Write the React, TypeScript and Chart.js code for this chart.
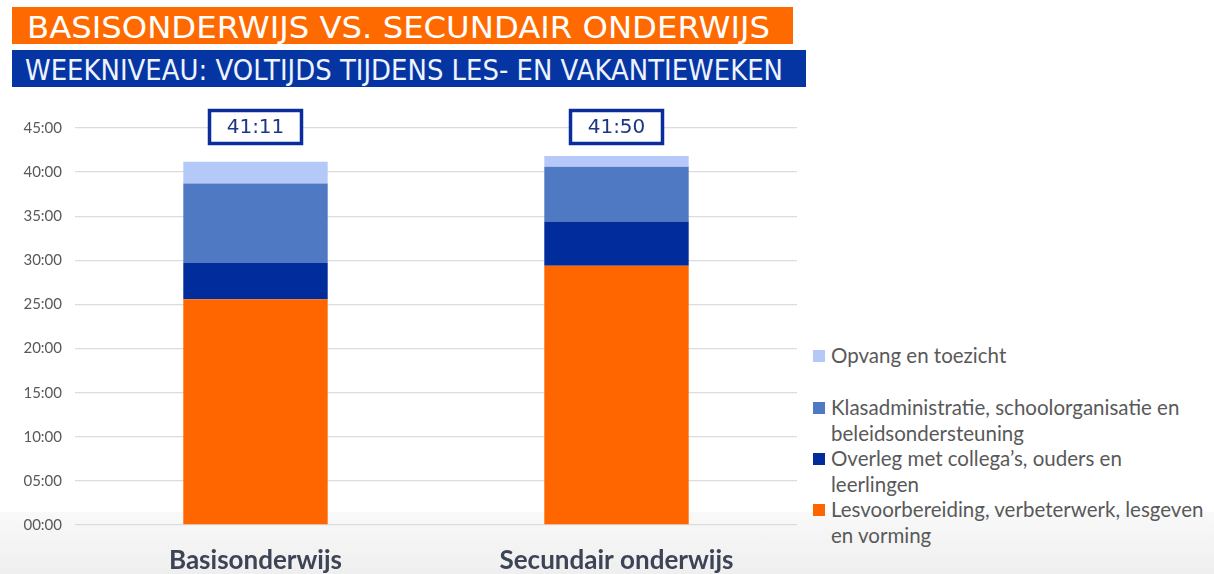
import React, { useEffect, useRef } from "react";
import { Chart, registerables } from "chart.js";

Chart.register(...registerables);

// Data (values in minutes per week)
const categories = ["Basisonderwijs", "Secundair onderwijs"];
const seriesLabels = [
  "Lesvoorbereiding, verbeterwerk, lesgeven en vorming",
  "Overleg met collega’s, ouders en leerlingen",
  "Klasadministratie, schoolorganisatie en beleidsondersteuning",
  "Opvang en toezicht",
];
const lesvoorbereiding = [1536, 1764];
const overleg = [246, 300];
const klasadministratie = [540, 372];
const opvang = [149, 74];
const seriesColors = ["#ff6600", "#002c9c", "#5079c3", "#b5c9f8"];
const legendLines = [
  ["Lesvoorbereiding, verbeterwerk, lesgeven", "en vorming"],
  ["Overleg met collega’s, ouders en", "leerlingen"],
  ["Klasadministratie, schoolorganisatie en", "beleidsondersteuning"],
  ["Opvang en toezicht"],
];
const yMaxMinutes = 2700;
const yStepMinutes = 300;
const titleText = "BASISONDERWIJS VS. SECUNDAIR ONDERWIJS";
const subtitleText = "WEEKNIVEAU: VOLTIJDS TIJDENS LES- EN VAKANTIEWEKEN";

const seriesValues = [lesvoorbereiding, overleg, klasadministratie, opvang];

function pad2(n: number) {
  return (n < 10 ? "0" : "") + n;
}
function fmtTotal(min: number) {
  const h = Math.floor(min / 60);
  const m = Math.round(min - h * 60);
  return h + ":" + pad2(m);
}

const totalsPlugin = {
  id: "totalsBoxes",
  afterDatasetsDraw(chart: any) {
    const ctx = chart.ctx;
    const xs = chart.scales.x;
    const top = chart.chartArea.top;
    ctx.save();
    categories.forEach((_, i) => {
      const total = seriesValues.reduce((s, arr) => s + arr[i], 0);
      const cx = xs.getPixelForValue(i);
      const cy = top - 1;
      const w = 92;
      const h = 33;
      ctx.fillStyle = "#ffffff";
      ctx.fillRect(cx - w / 2, cy - h / 2, w, h);
      ctx.lineWidth = 3.5;
      ctx.strokeStyle = "#0b2d9c";
      ctx.strokeRect(cx - w / 2, cy - h / 2, w, h);
      ctx.fillStyle = "#1c3585";
      ctx.font = '20px "DejaVu Sans"';
      ctx.textAlign = "center";
      ctx.textBaseline = "middle";
      ctx.fillText(fmtTotal(total), cx, cy + 1);
    });
    ctx.restore();
  },
};

export default function App() {
  const canvasRef = useRef<HTMLCanvasElement | null>(null);

  useEffect(() => {
    document.body.style.margin = "0";
    if (!canvasRef.current) return;
    const chart = new Chart(canvasRef.current, {
      type: "bar",
      data: {
        labels: categories,
        datasets: seriesValues.map((vals, i) => ({
          label: seriesLabels[i],
          data: vals,
          backgroundColor: seriesColors[i],
          borderWidth: 0,
          categoryPercentage: 1,
          barPercentage: 0.4,
        })),
      },
      options: {
        animation: false,
        responsive: false,
        maintainAspectRatio: false,
        layout: { padding: { top: 33, right: 13, left: 0, bottom: 0 } },
        plugins: {
          legend: { display: false },
          tooltip: { enabled: false },
          title: { display: false },
        },
        scales: {
          x: {
            stacked: true,
            grid: { display: false, drawTicks: false },
            border: { display: false },
            ticks: {
              color: "#3d4456",
              font: { family: "Lato", size: 26, weight: "bold" },
              padding: 20,
            },
            afterFit: (s: any) => {
              s.height = 49;
            },
          },
          y: {
            stacked: true,
            min: 0,
            max: yMaxMinutes,
            grid: { color: "#dcdcdc", lineWidth: 1.3, drawTicks: false },
            border: { display: false },
            ticks: {
              stepSize: yStepMinutes,
              color: "#595959",
              font: { family: "Lato", size: 15 },
              padding: 13,
              callback: (v: any) => pad2(Math.round(Number(v) / 60)) + ":00",
            },
            afterFit: (s: any) => {
              s.width = 75;
            },
          },
        },
      },
      plugins: [totalsPlugin],
    });
    return () => chart.destroy();
  }, []);

  const legendTops = [497, 446, 395, 343];

  return (
    <div
      style={{
        position: "relative",
        width: 1214,
        height: 574,
        overflow: "hidden",
        background: "#ffffff",
        fontFamily: "Lato, sans-serif",
      }}
    >
      <div
        style={{
          position: "absolute",
          left: 0,
          top: 512,
          width: 1214,
          height: 62,
          background: "linear-gradient(#f9f9f9, #efefef)",
        }}
      />
      <svg
        width={1214}
        height={95}
        style={{ position: "absolute", left: 0, top: 0 }}
      >
        <rect x={12} y={7} width={781} height={37} fill="#ff6a00" />
        <text
          x={27}
          y={38}
          fill="#ffffff"
          fontFamily="DejaVu Sans"
          fontSize={31}
          textLength={743}
          lengthAdjust="spacingAndGlyphs"
        >
          {titleText}
        </text>
        <rect x={12} y={50} width={794} height={37} fill="#0535a3" />
        <text
          x={25}
          y={80}
          fill="#eef3ff"
          fontFamily="DejaVu Sans"
          fontSize={29}
          textLength={758}
          lengthAdjust="spacingAndGlyphs"
        >
          {subtitleText}
        </text>
      </svg>
      <canvas
        ref={canvasRef}
        width={810}
        height={479}
        style={{ position: "absolute", left: 0, top: 95, width: 810, height: 479 }}
      />
      {legendLines.map((lines, i) => (
        <div
          key={i}
          style={{
            position: "absolute",
            left: 813,
            top: legendTops[i],
            fontSize: 20.5,
            lineHeight: "25.7px",
            color: "#595959",
            whiteSpace: "nowrap",
          }}
        >
          <span
            style={{
              position: "absolute",
              left: 0,
              top: 7,
              width: 12,
              height: 12,
              background: seriesColors[i],
            }}
          />
          <div style={{ marginLeft: 18 }}>
            {lines.map((l, j) => (
              <div key={j}>{l}</div>
            ))}
          </div>
        </div>
      ))}
    </div>
  );
}
